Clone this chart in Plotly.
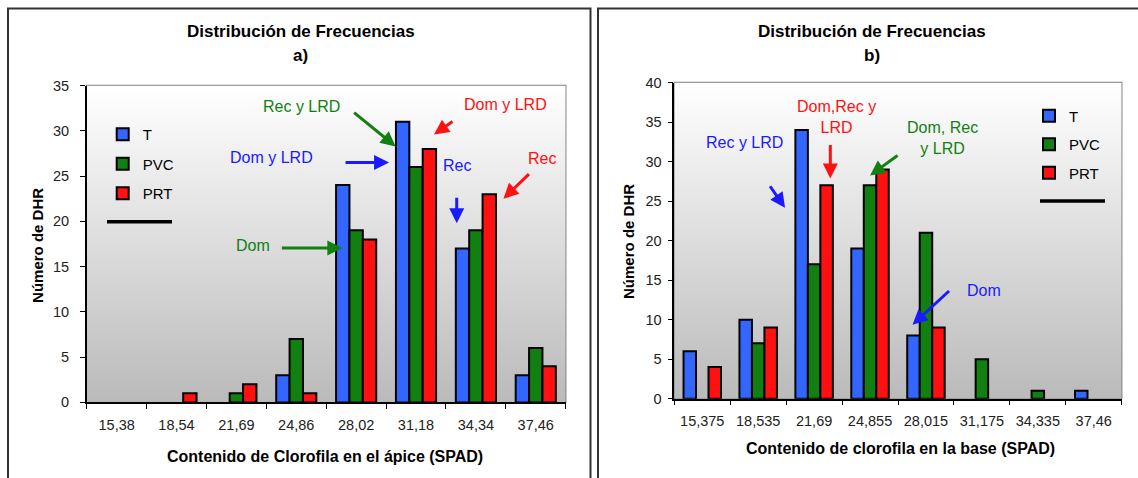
import base64
import plotly.graph_objects as go
from plotly.subplots import make_subplots

# data
cats_a = ["15,38", "18,54", "21,69", "24,86", "28,02", "31,18", "34,34", "37,46"]
t_a = [0, 0, 0, 3, 24, 31, 17, 3]
pvc_a = [0, 0, 1, 7, 19, 26, 19, 6]
prt_a = [0, 1, 2, 1, 18, 28, 23, 4]

cats_b = ["15,375", "18,535", "21,69", "24,855", "28,015", "31,175", "34,335", "37,46"]
t_b = [6, 10, 34, 19, 8, 0, 0, 1]
pvc_b = [0, 7, 17, 27, 21, 5, 1, 0]
prt_b = [4, 9, 27, 29, 9, 0, 0, 0]

series = ["T", "PVC", "PRT"]
colors = ["#3366ff", "#118011", "#ff1111"]

W, H = 1138, 478
FONT = "Arial, 'Liberation Sans', sans-serif"


def px_x(p):
    return p / W


def px_y(p):
    # screenshot comes out slightly squeezed vertically, compensate
    return 1 - ((p - 6.2) / 0.97) / H


def nz(vals):
    # Excel draws nothing for an empty class
    return [v if v else None for v in vals]


fig = make_subplots(rows=1, cols=2)

for i, (name, vals) in enumerate(zip(series, [t_a, pvc_a, prt_a])):
    fig.add_trace(go.Bar(x=cats_a, y=nz(vals), name=name, marker_color=colors[i],
                         marker_line=dict(color="black", width=2),
                         legend="legend", legendgroup="a" + name), row=1, col=1)
for i, (name, vals) in enumerate(zip(series, [t_b, pvc_b, prt_b])):
    fig.add_trace(go.Bar(x=cats_b, y=nz(vals), name=name, marker_color=colors[i],
                         marker_line=dict(color="black", width=2),
                         legend="legend2", legendgroup="b" + name), row=1, col=2)

axis_common = dict(showline=True, linecolor="black", linewidth=1.5, ticks="outside",
                   ticklen=5, tickcolor="black", tickfont=dict(size=14.5, color="#222"),
                   showgrid=False, zeroline=False, fixedrange=True)

fig.update_xaxes(**axis_common, tickson="boundaries", ticklabelstandoff=8)
fig.update_yaxes(**axis_common, dtick=5)
fig.update_layout(
    xaxis=dict(domain=[px_x(86.7), px_x(565.7)]),
    yaxis=dict(domain=[px_y(402), px_y(84)], range=[0, 35], ticklabelstandoff=8),
    xaxis2=dict(domain=[px_x(674.3), px_x(1121.7)]),
    yaxis2=dict(domain=[px_y(398.3), px_y(81)], range=[0, 40], ticklabelstandoff=3),
)

# gradient plot background
svg = ('<svg xmlns="http://www.w3.org/2000/svg" width="100" height="100" preserveAspectRatio="none">'
       '<defs><linearGradient id="g" x1="0" y1="0" x2="0" y2="1">'
       '<stop offset="0" stop-color="#ffffff"/><stop offset="1" stop-color="#bababa"/>'
       '</linearGradient></defs><rect width="100" height="100" fill="url(#g)"/></svg>')
src = "data:image/svg+xml;base64," + base64.b64encode(svg.encode()).decode()
for xa, ya in [("x", "y"), ("x2", "y2")]:
    fig.add_layout_image(source=src, xref=xa + " domain", yref=ya + " domain", x=0, y=1,
                         sizex=1, sizey=1, sizing="stretch", xanchor="left", yanchor="top",
                         layer="below")
    fig.add_shape(type="rect", xref=xa + " domain", yref=ya + " domain", x0=0, y0=0, x1=1, y1=1,
                  line=dict(color="#808080", width=1.5), layer="below")

# panel frames
fig.add_shape(type="rect", xref="paper", yref="paper", x0=px_x(8), x1=px_x(590.5),
              y0=px_y(500), y1=0.999, line=dict(color="#333", width=2))
fig.add_shape(type="rect", xref="paper", yref="paper", x0=px_x(598), x1=px_x(1145),
              y0=px_y(500), y1=0.999, line=dict(color="#333", width=2))

# legend blank-series lines
fig.add_shape(type="line", xref="paper", yref="paper", x0=px_x(107), x1=px_x(172),
              y0=px_y(220.7), y1=px_y(220.7), line=dict(color="black", width=3.5))
fig.add_shape(type="line", xref="paper", yref="paper", x0=px_x(1040), x1=px_x(1105),
              y0=px_y(200), y1=px_y(200), line=dict(color="black", width=3.5))

# titles
titles = [
    (300.5, "Distribución de Frecuencias", "a)", "Contenido de Clorofila en el ápice (SPAD)", 325, 456.7, 38, 245),
    (872, "Distribución de Frecuencias", "b)", "Contenido de clorofila en la base (SPAD)", 900, 448.3, 628.5, 240.5),
]
for tx, ttl, sub, xt, xtx, xty, ytx, yty in titles:
    fig.add_annotation(x=px_x(tx), y=px_y(30), text="<b>" + ttl + "</b>", font=dict(size=17))
    fig.add_annotation(x=px_x(tx), y=px_y(54.3), text="<b>" + sub + "</b>", font=dict(size=17))
    fig.add_annotation(x=px_x(xtx), y=px_y(xty), text="<b>" + xt + "</b>", font=dict(size=16))
    fig.add_annotation(x=px_x(ytx), y=px_y(yty), text="<b>Número de DHR</b>", textangle=-90,
                       font=dict(size=15))
fig.update_annotations(xref="paper", yref="paper", showarrow=False, xanchor="center", yanchor="middle")

BLUE, GREEN, RED = "#1a1aff", "#118011", "#ff1111"

# (axis, x, y, text, color)
labels = [
    ("", 3.09, 32.67, "Rec y LRD", GREEN),
    ("", 2.59, 27.1, "Dom y LRD", BLUE),
    ("", 2.27, 17.35, "Dom", GREEN),
    ("", 6.5, 32.86, "Dom y LRD", RED),
    ("", 5.69, 26.18, "Rec", BLUE),
    ("", 7.11, 26.99, "Rec", RED),
    ("2", 0.75, 32.36, "Rec y LRD", BLUE),
    ("2", 2.4, 35.66, "Dom,Rec y<br>LRD", RED),
    ("2", 4.29, 32.95, "Dom, Rec<br>y LRD", GREEN),
    ("2", 5.04, 13.66, "Dom", BLUE),
]
for ax_id, x, y, txt, col in labels:
    fig.add_annotation(xref="x" + ax_id, yref="y" + ax_id, x=x, y=y, text=txt, showarrow=False,
                       font=dict(size=16, color=col), align="center", xanchor="center",
                       yanchor="middle")

# (axis, head x, head y, tail dx px, tail dy px, color)
arrows = [
    ("", 4.66, 28.27, -43, -35, GREEN),
    ("", 4.55, 26.5, -45, 0, BLUE),
    ("", 3.77, 17.05, -62, 0, GREEN),
    ("", 5.30, 29.6, 20, -14, RED),
    ("", 5.68, 19.8, 0, -27, BLUE),
    ("", 6.46, 22.5, 27, -26, RED),
    ("2", 1.48, 24.16, -16, -23, BLUE),
    ("2", 2.29, 27.87, 0, -35, RED),
    ("2", 3.0, 28.25, 29, -21, GREEN),
    ("2", 3.76, 9.37, 38, -35, BLUE),
]
for ax_id, x, y, dx, dy, col in arrows:
    fig.add_annotation(xref="x" + ax_id, yref="y" + ax_id, x=x, y=y, ax=dx, ay=dy, text="",
                       showarrow=True, arrowhead=2, arrowsize=1, arrowwidth=3, arrowcolor=col)

legend_common = dict(font=dict(size=15, color="black"), bgcolor="rgba(0,0,0,0)",
                     itemwidth=30, xanchor="left", yanchor="top",
                     itemclick=False, itemdoubleclick=False)
fig.update_layout(
    width=W, height=H,
    margin=dict(l=0, r=0, t=0, b=0),
    paper_bgcolor="white",
    plot_bgcolor="rgba(0,0,0,0)",
    font=dict(family=FONT, color="black"),
    barmode="group", bargap=0.33, bargroupgap=0,
    showlegend=True,
    legend=dict(x=px_x(102.7), y=px_y(116.5), tracegroupgap=7, **legend_common),
    legend2=dict(x=px_x(1029), y=px_y(98), tracegroupgap=6, **legend_common),
)

fig.write_html("out.html", config={"displayModeBar": False},
               post_script="document.body.style.margin='0px';")
